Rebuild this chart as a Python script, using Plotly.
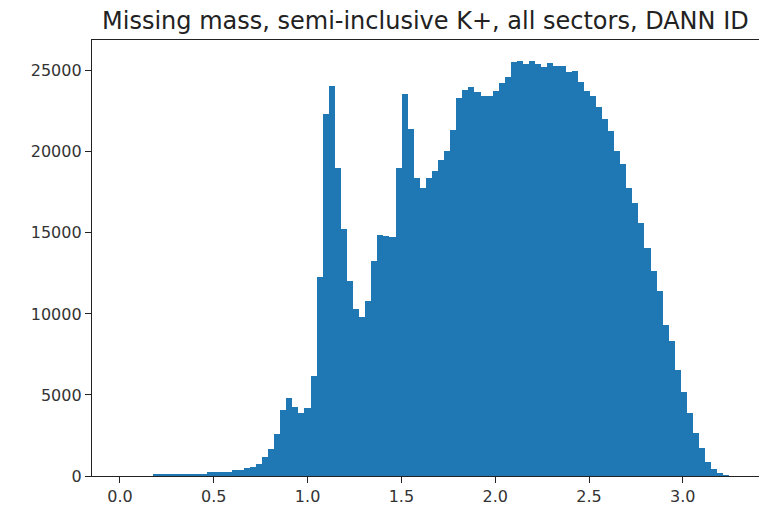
import numpy as np
import plotly.graph_objects as go

# Histogram of missing mass (GeV), 100 equal-width bins
bin_start = 0.0126
bin_width = 0.03236
counts = [
    0, 0, 0, 0, 0,
    90, 95, 100, 105, 110, 115, 120, 125, 135,
    230, 245, 255, 270,
    360, 385,
    495, 530,
    740, 1150, 1650, 2600, 4080, 4800, 4250, 3880, 4190, 6200,
    12290, 22330, 24040, 18990, 15260, 12060, 10300, 9810, 10780, 13250,
    14860, 14820, 14760, 18980, 23560, 21440, 18370, 17770, 18370, 18820,
    19480, 20080, 21340, 23300, 23830, 24000, 23670, 23420, 23420, 23770,
    24240, 24630, 25560, 25620, 25420, 25620, 25420, 25210, 25480, 25310,
    25270, 24940, 25000, 24280, 23770, 23420, 22780, 22020, 21290, 20060,
    19230, 17800, 16860, 15630, 14040, 12640, 11400, 9340, 8310, 6560,
    5210, 3870, 2640, 1710, 890, 410, 170, 20,
]
x_ticks = [0.0, 0.5, 1.0, 1.5, 2.0, 2.5, 3.0]
y_ticks = [0, 5000, 10000, 15000, 20000, 25000]
title = "Missing mass, semi-inclusive K+, all sectors, DANN ID"

n_bins = len(counts)
edges = bin_start + bin_width * np.arange(n_bins + 1)
centers = 0.5 * (edges[:-1] + edges[1:])

fig = go.Figure(
    go.Bar(
        x=centers,
        y=counts,
        width=bin_width,
        marker=dict(color="#1f77b4", line=dict(width=0)),
        hoverinfo="x+y",
    )
)

span = edges[-1] - edges[0]
x_lo = edges[0] - 0.05 * span
ymax = max(counts) * 1.05

font_family = "DejaVu Sans"
axis_col = "#222222"
fig.update_layout(
    width=759,
    height=510,
    margin=dict(l=92, r=0, t=40, b=34),
    paper_bgcolor="white",
    plot_bgcolor="white",
    bargap=0,
    showlegend=False,
    font=dict(family=font_family, size=16, color="#333333"),
    xaxis=dict(
        range=[x_lo, 3.4062],
        tickvals=x_ticks,
        ticktext=[f"{v:.1f}" for v in x_ticks],
        ticks="outside",
        ticklen=6,
        tickwidth=1.3,
        tickcolor=axis_col,
        showline=True,
        linecolor=axis_col,
        linewidth=1.3,
        mirror=True,
        showgrid=False,
        zeroline=False,
    ),
    yaxis=dict(
        range=[0, ymax],
        tickvals=y_ticks,
        ticktext=[str(v) for v in y_ticks],
        ticks="outside",
        ticklen=6,
        tickwidth=1.3,
        tickcolor=axis_col,
        showline=True,
        linecolor=axis_col,
        linewidth=1.3,
        showgrid=False,
        zeroline=False,
    ),
    annotations=[
        dict(
            text=title,
            xref="paper",
            yref="paper",
            x=0.5,
            y=1,
            xanchor="center",
            yanchor="bottom",
            yshift=3,
            showarrow=False,
            font=dict(family=font_family, size=24, color="#222222"),
        )
    ],
)

fig.write_html("out.html")
